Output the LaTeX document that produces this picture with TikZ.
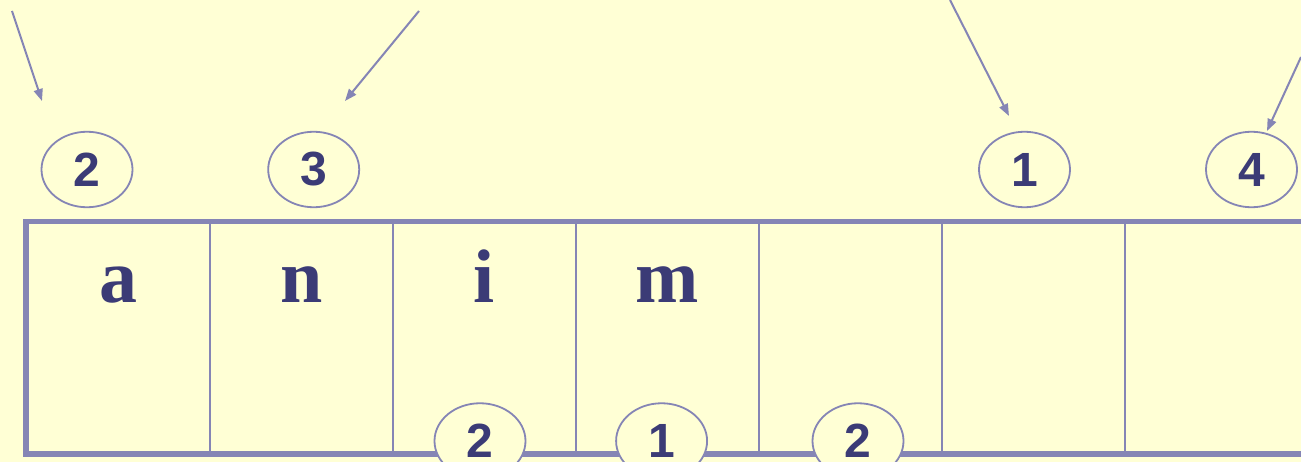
\documentclass[tikz,border=0pt]{standalone}
\usepackage{fontspec}
\usetikzlibrary{
  arrows.meta,
  shapes.geometric
}
\newfontfamily\digitfont{Liberation Sans}
\newfontfamily\letterfont{Liberation Serif}
\definecolor{slBack}{HTML}{FFFFD5}
\definecolor{slLine}{HTML}{8585B5}
\definecolor{slInk}{HTML}{3B3B76}
\tikzset{
  cell/.style={
    draw=slLine,
    line width=2pt,
    minimum width=183pt,
    minimum height=230.5pt,
    inner sep=0pt
  },
  frame/.style={draw=slLine, line width=5.5pt, line join=miter},
  letter/.style={
    font=\letterfont\bfseries\fontsize{76}{80}\selectfont,
    text=slInk,
    anchor=base,
    inner sep=0pt
  },
  count/.style={
    ellipse,
    draw=slLine,
    line width=1.8pt,
    fill=slBack,
    minimum width=91pt,
    minimum height=75.5pt,
    inner sep=0pt,
    font=\digitfont\bfseries\fontsize{48}{50}\selectfont,
    text=slInk
  },
  pointer/.style={-{Triangle[length=12pt,width=9pt]}, line width=2pt, draw=slLine}
}
\begin{document}
\begin{tikzpicture}[x=1pt,y=-1pt]

% --------------------------------------------------------------------------
% Canvas
% --------------------------------------------------------------------------
\useasboundingbox[fill=slBack] (0,0) rectangle (1301,462);

% --------------------------------------------------------------------------
% Table cells
% --------------------------------------------------------------------------
\foreach \i in {1,...,7}
  \node[cell] (cell_\i) at ({27+183*(\i-0.5)},337.75) {};

\draw[frame] (cell_7.north east) -- (cell_1.north west)
  -- (cell_1.south west) -- (cell_7.south east);

\foreach \ch [count=\i] in {a,n,i,m}
  \node[letter] (letter_\i) at ({27+183*(\i-0.5)},303) {\ch};

% --------------------------------------------------------------------------
% Counters above the table
% --------------------------------------------------------------------------
\node[count] (top_a) at (87,169.5) {2};
\node[count] (top_n) at (313.7,169.5) {3};
\node[count] (top_f) at (1024.5,169.5) {1};
\node[count] (top_g) at (1251.5,169.5) {4};

% --------------------------------------------------------------------------
% Counters on the bottom edge
% --------------------------------------------------------------------------
\node[count] (bot_i) at (480,441) {2};
\node[count] (bot_m) at (661.6,441) {1};
\node[count] (bot_e) at (858,441) {2};

% --------------------------------------------------------------------------
% Pointers
% --------------------------------------------------------------------------
\coordinate (from_1) at (12,11);
\coordinate (to_1) at (42,101);
\coordinate (from_2) at (419,11);
\coordinate (to_2) at (345,101);
\coordinate (from_3) at (950,0);
\coordinate (to_3) at (1009,116);
\coordinate (from_4) at (1301,57);
\coordinate (to_4) at (1267,131);

\draw[pointer] (from_1) -- (to_1);
\draw[pointer] (from_2) -- (to_2);
\draw[pointer] (from_3) -- (to_3);
\draw[pointer] (from_4) -- (to_4);

\end{tikzpicture}
\end{document}
